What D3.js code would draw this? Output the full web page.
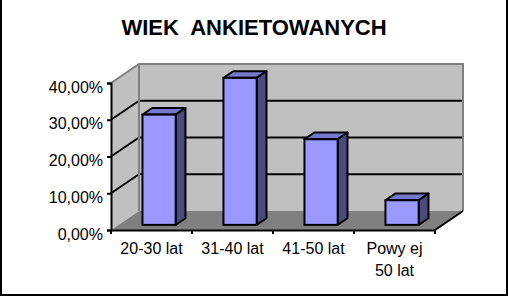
<!doctype html>
<html lang="pl">
<head>
	<meta charset="utf-8">
	<title>Wiek ankietowanych</title>
	<script src="https://cdn.jsdelivr.net/npm/d3@7"></script>
	<style>
		body { margin: 0; background: #fff; }
		text { font-family: "Liberation Sans", Arial, sans-serif; }
	</style>
</head>
<body>
	<div id="svg"></div>
	<script>
		// data
		var categories = ["20-30 lat", "31-40 lat", "41-50 lat", "Powy ej|50 lat"];
		var values = [30, 40, 23.3, 6.7];
		var ticks = [0, 10, 20, 30, 40];
		var title = "WIEK  ANKIETOWANYCH";

		var widthSvg = 509, heightSvg = 297;
		var depthX = 28, depthY = -19;      // 3d depth of the plot box
		var f1 = 0.27, f2 = 0.62;           // bar front / back as part of depth

		var svg = d3.select("#svg").append("svg")
			.attr("width", widthSvg).attr("height", heightSvg);

		var xScale = d3.scaleBand().domain(categories).range([111, 435]).padding(0);
		var yScale = d3.scaleLinear().domain([0, 40]).range([230, 83]);

		var x0 = xScale.range()[0], x1 = xScale.range()[1];
		var yb = yScale(0), yt = yScale(40);

		function pts(arr) { return arr.map(function(p) { return p.join(","); }).join(" "); }

		// frame
		svg.append("path")
			.attr("d", "M1,0 V295 H507 V0")
			.attr("fill", "none").attr("stroke", "#000").attr("stroke-width", 2);

		// title
		svg.append("text")
			.attr("x", 254).attr("y", 35)
			.attr("text-anchor", "middle")
			.attr("font-size", 22).attr("font-weight", "bold")
			.style("white-space", "pre")
			.text(title);

		// walls
		svg.append("polygon")
			.attr("points", pts([[x0, yt], [x0 + depthX, yt + depthY], [x0 + depthX, yb + depthY], [x0, yb]]))
			.attr("fill", "#c0c0c0");
		svg.append("rect")
			.attr("x", x0 + depthX).attr("y", yt + depthY)
			.attr("width", x1 - x0).attr("height", yb - yt)
			.attr("fill", "#c0c0c0");
		svg.append("polygon")
			.attr("points", pts([[x0, yb], [x1, yb], [x1 + depthX, yb + depthY], [x0 + depthX, yb + depthY]]))
			.attr("fill", "#808080");

		// gridlines
		var inner = ticks.slice(1, -1);
		svg.selectAll(".grid").data(inner).enter().append("line")
			.attr("x1", x0 + depthX).attr("x2", x1 + depthX)
			.attr("y1", function(d) { return yScale(d) + depthY; })
			.attr("y2", function(d) { return yScale(d) + depthY; })
			.attr("stroke", "#000").attr("stroke-width", 2);
		svg.selectAll(".diag").data(inner).enter().append("line")
			.attr("x1", x0).attr("x2", x0 + depthX)
			.attr("y1", function(d) { return yScale(d); })
			.attr("y2", function(d) { return yScale(d) + depthY; })
			.attr("stroke", "#000").attr("stroke-width", 2);

		// wall edges
		svg.append("path")
			.attr("d", "M" + x0 + "," + yt + " L" + (x0 + depthX) + "," + (yt + depthY) +
				" H" + (x1 + depthX) + " V" + (yb + depthY))
			.attr("fill", "none").attr("stroke", "#808080").attr("stroke-width", 2);
		svg.append("line")
			.attr("x1", x0 + depthX).attr("x2", x0 + depthX)
			.attr("y1", yt + depthY).attr("y2", yb + depthY)
			.attr("stroke", "#808080").attr("stroke-width", 2);

		// bars
		var bw = xScale.bandwidth() * 0.41;
		var fx = f1 * depthX, fy = f1 * depthY;
		var bx = (f2 - f1) * depthX, by = (f2 - f1) * depthY;

		var bars = svg.selectAll(".bar").data(values).enter().append("g");
		bars.each(function(d, i) {
			var g = d3.select(this);
			var left = xScale(categories[i]) + (xScale.bandwidth() - bw) / 2 + fx;
			var right = left + bw;
			var top = yScale(d) + fy;
			var bottom = yScale(0) + fy;
			g.append("polygon")
				.attr("points", pts([[left, top], [left + bx, top + by], [right + bx, top + by], [right, top]]))
				.attr("fill", "#7777cc").attr("stroke", "#000").attr("stroke-width", 2).attr("stroke-linejoin", "round");
			g.append("polygon")
				.attr("points", pts([[right, top], [right + bx, top + by], [right + bx, bottom + by], [right, bottom]]))
				.attr("fill", "#4b4b80").attr("stroke", "#000").attr("stroke-width", 2).attr("stroke-linejoin", "round");
			g.append("rect")
				.attr("x", left).attr("y", top)
				.attr("width", bw).attr("height", bottom - top)
				.attr("fill", "#9999ff").attr("stroke", "#000").attr("stroke-width", 2);
		});

		// floor front-right edge
		svg.append("line")
			.attr("x1", x1).attr("y1", yb)
			.attr("x2", x1 + depthX).attr("y2", yb + depthY)
			.attr("stroke", "#000").attr("stroke-width", 2);

		// y axis
		var yAxis = svg.append("g").attr("transform", "translate(" + x0 + ",0)")
			.call(d3.axisLeft(yScale).tickValues(ticks).tickSize(4).tickPadding(4)
				.tickFormat(function(d) { return d3.format(".2f")(d).replace(".", ",") + "%"; }));
		yAxis.select(".domain").attr("stroke-width", 2);
		yAxis.selectAll(".tick line").attr("stroke-width", 2);
		yAxis.selectAll("text")
			.attr("font-family", "Liberation Sans, Arial, sans-serif")
			.attr("font-size", 16).attr("fill", "#000")
			.attr("dy", null).attr("y", 9);

		// x axis
		var xAxis = svg.append("g").attr("transform", "translate(0," + yb + ")")
			.call(d3.axisBottom(xScale).tickSize(0).tickFormat(""));
		xAxis.select(".domain").attr("stroke-width", 2);
		xAxis.selectAll(".tick").remove();
		var edges = categories.map(function(c) { return xScale(c); }).concat([x1]);
		xAxis.selectAll(".xt").data(edges).enter().append("line")
			.attr("x1", function(d) { return d; }).attr("x2", function(d) { return d; })
			.attr("y1", 0).attr("y2", 4)
			.attr("stroke", "#000").attr("stroke-width", 2);

		var labels = svg.selectAll(".xl").data(categories).enter().append("text")
			.attr("text-anchor", "middle")
			.attr("font-size", 16)
			.attr("y", 254);
		labels.each(function(d) {
			var cx = xScale(d) + xScale.bandwidth() / 2;
			var parts = d.split("|");
			var t = d3.select(this).style("white-space", "pre");
			parts.forEach(function(p, j) {
				t.append("tspan").attr("x", cx).attr("dy", j ? 22 : 0).text(p);
			});
		});
	</script>
</body>
</html>
